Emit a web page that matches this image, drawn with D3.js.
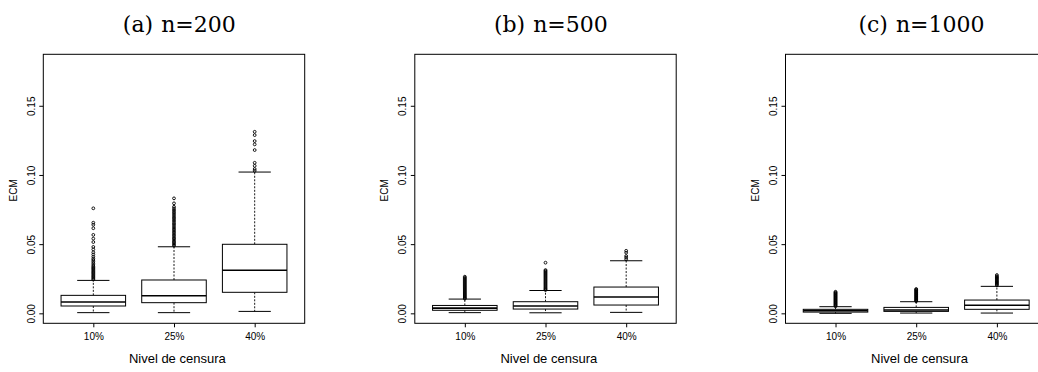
<!DOCTYPE html>
<html>
<head>
<meta charset="utf-8">
<script src="https://cdn.jsdelivr.net/npm/d3@7"></script>
<style>
  body { margin: 0; background: #fff; }
  text { font-family: "Liberation Sans", Arial, Helvetica, sans-serif; }
</style>
</head>
<body>
<svg width="1038" height="372"></svg>
<script>
// categories and panel titles
var categories = ["10%", "25%", "40%"];
var titleTags = ["(a)", "(b)", "(c)"];
var titleNs = ["n=200", "n=500", "n=1000"];

// five numbers per box: lower whisker, Q1, median, Q3, upper whisker
var statsA = [
  [0.0005, 0.0053, 0.0082, 0.0130, 0.0238],
  [0.0005, 0.0077, 0.0127, 0.0241, 0.0481],
  [0.0014, 0.0152, 0.0311, 0.0499, 0.1021]
];
var statsB = [
  [0.0005, 0.0022, 0.0038, 0.0057, 0.0103],
  [0.0004, 0.0031, 0.0053, 0.0084, 0.0165],
  [0.0007, 0.0060, 0.0118, 0.0190, 0.0380]
];
var statsC = [
  [0.0000, 0.0009, 0.0019, 0.0029, 0.0048],
  [0.0002, 0.0014, 0.0024, 0.0043, 0.0084],
  [0.0002, 0.0029, 0.0058, 0.0096, 0.0195]
];

// outliers
var outA1 = [0.0759, 0.0655, 0.0640, 0.0615, 0.0567, 0.0540, 0.0515, 0.0480, 0.0462, 0.0441,
  0.0425, 0.0409, 0.0395, 0.0385, 0.0373, 0.0362, 0.0350, 0.0340, 0.0332, 0.0325, 0.0318,
  0.0310, 0.0302, 0.0295, 0.0288, 0.0280, 0.0272, 0.0265, 0.0258, 0.0250, 0.0244];
var outA2 = [0.0831, 0.0795, 0.0770, 0.0758, 0.0746, 0.0735, 0.0724, 0.0712, 0.0700, 0.0690,
  0.0679, 0.0668, 0.0656, 0.0645, 0.0634, 0.0622, 0.0611, 0.0600, 0.0589, 0.0578, 0.0567,
  0.0556, 0.0545, 0.0535, 0.0525, 0.0515, 0.0506, 0.0497, 0.0489];
var outA3 = [0.1312, 0.1288, 0.1245, 0.1221, 0.1180, 0.1088, 0.1066, 0.1043, 0.1030];
var outB1 = [0.0265, 0.0258, 0.0251, 0.0244, 0.0237, 0.0230, 0.0223, 0.0216, 0.0209, 0.0202,
  0.0195, 0.0188, 0.0181, 0.0174, 0.0167, 0.0160, 0.0153, 0.0146, 0.0139, 0.0132, 0.0125,
  0.0118, 0.0111, 0.0106];
var outB2 = [0.0366, 0.0313, 0.0306, 0.0299, 0.0292, 0.0285, 0.0278, 0.0271, 0.0264, 0.0257,
  0.0250, 0.0243, 0.0236, 0.0229, 0.0222, 0.0215, 0.0208, 0.0201, 0.0194, 0.0187, 0.0180,
  0.0174, 0.0168];
var outB3 = [0.0452, 0.0438, 0.0414, 0.0402, 0.0390];
var outC1 = [0.0156, 0.0151, 0.0146, 0.0141, 0.0136, 0.0131, 0.0126, 0.0121, 0.0116, 0.0111,
  0.0106, 0.0101, 0.0096, 0.0091, 0.0086, 0.0081, 0.0076, 0.0071, 0.0066, 0.0061, 0.0056, 0.0051];
var outC2 = [0.0176, 0.0171, 0.0166, 0.0161, 0.0156, 0.0151, 0.0146, 0.0141, 0.0136, 0.0131,
  0.0126, 0.0121, 0.0116, 0.0111, 0.0106, 0.0101, 0.0096, 0.0091, 0.0088];
var outC3 = [0.0277, 0.0268, 0.0262, 0.0256, 0.0250, 0.0244, 0.0238, 0.0232, 0.0226, 0.0220,
  0.0214, 0.0208, 0.0203];

var yTicks = [0, 0.05, 0.10, 0.15];
var yLim = [0, 0.18];

var panels = [
  {stats: statsA, outs: [outA1, outA2, outA3]},
  {stats: statsB, outs: [outB1, outB2, outB3]},
  {stats: statsC, outs: [outC1, outC2, outC3]}
];

var svg = d3.select("svg");

var lefts = [43.3, 414.8, 785.5],
    plotTop = 54.3,
    pw = 261.4,
    ph = 269;

// R style: limits stretched by 4%
var pad = (yLim[1] - yLim[0]) * 0.04;
var y = d3.scaleLinear().domain([yLim[0] - pad, yLim[1] + pad]).range([plotTop + ph, plotTop]);

panels.forEach(function(p, i) {
  var left = lefts[i];
  var x = d3.scaleLinear().domain([0.38, 3.62]).range([left, left + pw]);
  var g = svg.append("g");

  // title
  var t = g.append("text")
    .attr("x", left + 136)
    .attr("y", 31.5)
    .attr("text-anchor", "middle")
    .style("font-family", "'DejaVu Serif', 'Liberation Serif', serif")
    .style("font-size", "22px");
  t.append("tspan").text(titleTags[i]);
  t.append("tspan").attr("dx", 8).text(titleNs[i]);

  // y axis
  var ya = g.append("g")
    .attr("transform", "translate(" + left + ",0)")
    .call(d3.axisLeft(y).tickValues(yTicks).tickFormat(d3.format(".2f")).tickSize(4));
  ya.select(".domain").remove();
  ya.selectAll("text")
    .attr("x", null).attr("dy", null)
    .attr("text-anchor", "middle")
    .attr("transform", "translate(-8.5,0) rotate(-90)")
    .style("font-family", "'Liberation Sans', Arial, sans-serif")
    .style("font-size", "10px");

  // x axis
  var xa = g.append("g")
    .attr("transform", "translate(0," + (plotTop + ph) + ")")
    .call(d3.axisBottom(x).tickValues([1, 2, 3]).tickFormat(function(d) { return categories[d - 1]; }).tickSize(4));
  xa.select(".domain").remove();
  xa.selectAll("text")
    .attr("y", 17).attr("dy", null)
    .style("font-family", "'Liberation Sans', Arial, sans-serif")
    .style("font-size", "10px");

  // axis titles
  g.append("text")
    .attr("transform", "translate(" + (left - 26.5) + "," + (plotTop + ph / 2 + 1.5) + ") rotate(-90)")
    .attr("text-anchor", "middle")
    .style("font-size", "10px")
    .text("ECM");
  g.append("text")
    .attr("x", left + 134)
    .attr("y", 363.3)
    .attr("text-anchor", "middle")
    .style("font-size", "13px")
    .text("Nivel de censura");

  // boxes
  p.stats.forEach(function(s, k) {
    var cx = x(k + 1),
        bw = x(1.4) - x(1),
        sw = x(1.2) - x(1);
    var b = g.append("g").attr("fill", "none").attr("stroke", "#000");

    // whiskers
    b.append("line").attr("x1", cx).attr("x2", cx).attr("y1", y(s[3])).attr("y2", y(s[4]))
      .attr("stroke-dasharray", "2,1.5").attr("stroke-width", 0.9);
    b.append("line").attr("x1", cx).attr("x2", cx).attr("y1", y(s[1])).attr("y2", y(s[0]))
      .attr("stroke-dasharray", "2,1.5").attr("stroke-width", 0.9);
    // staples
    b.append("line").attr("x1", cx - sw).attr("x2", cx + sw).attr("y1", y(s[4])).attr("y2", y(s[4]));
    b.append("line").attr("x1", cx - sw).attr("x2", cx + sw).attr("y1", y(s[0])).attr("y2", y(s[0]));
    // box
    b.append("rect").attr("x", cx - bw).attr("width", 2 * bw)
      .attr("y", y(s[3])).attr("height", y(s[1]) - y(s[3]))
      .attr("fill", "#fff");
    // median
    b.append("line").attr("x1", cx - bw).attr("x2", cx + bw).attr("y1", y(s[2])).attr("y2", y(s[2]))
      .attr("stroke-width", 1.6);

    // outliers
    b.selectAll("circle")
      .data(p.outs[k])
      .enter()
      .append("circle")
        .attr("cx", cx)
        .attr("cy", function(d) { return y(d); })
        .attr("r", 1.4)
        .attr("stroke-width", 0.9);
  });

  // frame
  g.append("rect")
    .attr("x", left).attr("y", plotTop)
    .attr("width", pw).attr("height", ph)
    .attr("fill", "none")
    .attr("stroke", "#000");
});
</script>
</body>
</html>
